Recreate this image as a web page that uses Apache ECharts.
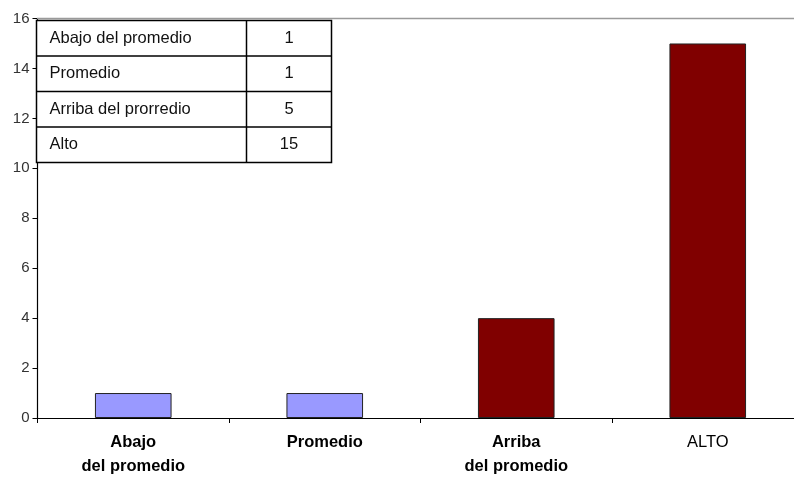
<!DOCTYPE html>
<html>
<head>
<meta charset="utf-8">
<script src="https://cdn.jsdelivr.net/npm/echarts@6/dist/echarts.min.js"></script>
<style>html,body{margin:0;padding:0;background:#fff;}#c{width:794px;height:478px;}</style>
</head>
<body>
<div id="c"></div>
<script>
var categories = ['Abajo\ndel promedio', 'Promedio', 'Arriba\ndel promedio', 'ALTO'];
var values = [1, 1, 4, 15];
var barColors = ['#9999FF', '#9999FF', '#800000', '#800000'];
var tableLabels = ['Abajo del promedio', 'Promedio', 'Arriba del prorredio', 'Alto'];
var tableValues = ['1', '1', '5', '15'];

var chart = echarts.init(document.getElementById('c'));

var graphics = [];
graphics.push({type:'line', shape:{x1:37, y1:18.5, x2:794, y2:18.5}, style:{stroke:'#9a9a9a', lineWidth:1.5}, z:5});
var tx = 36.5, ty = 20.5, tw = 295, cw = 210, rh = 35.5;
graphics.push({type:'rect', shape:{x:tx, y:ty, width:tw, height:rh*tableLabels.length}, style:{fill:'#fff', stroke:'#000', lineWidth:1.5}, z:10});
graphics.push({type:'line', shape:{x1:tx+cw, y1:ty, x2:tx+cw, y2:ty+rh*tableLabels.length}, style:{stroke:'#000', lineWidth:1.5}, z:11});
for (var i = 0; i < tableLabels.length; i++) {
  if (i > 0) graphics.push({type:'line', shape:{x1:tx, y1:ty+rh*i, x2:tx+tw, y2:ty+rh*i}, style:{stroke:'#000', lineWidth:1.5}, z:11});
  graphics.push({type:'text', x:tx+13, y:ty+rh*i+rh/2, style:{text:tableLabels[i], font:'16.5px "Liberation Sans", Arial, sans-serif', fill:'#111', verticalAlign:'middle', align:'left'}, z:12});
  graphics.push({type:'text', x:tx+cw+(tw-cw)/2, y:ty+rh*i+rh/2, style:{text:tableValues[i], font:'16.5px "Liberation Sans", Arial, sans-serif', fill:'#111', verticalAlign:'middle', align:'center'}, z:12});
}

chart.setOption({
  animation: false,
  backgroundColor: '#fff',
  grid: {left: 37.5, top: 18.5, width: 766, bottom: 60, containLabel: false, outerBoundsMode: 'none'},
  xAxis: {
    type: 'category',
    data: categories,
    axisLine: {lineStyle: {color: '#000', width: 1.2}},
    axisTick: {show: true, length: 5, lineStyle: {color: '#000'}},
    axisLabel: {
      margin: 12,
      interval: 0,
      formatter: function (v) {
        if (v === 'ALTO') return '{n|ALTO}';
        return v.split('\n').map(function (s) { return '{b|' + s + '}'; }).join('\n');
      },
      rich: {
        b: {fontFamily: '"Liberation Sans", Arial, sans-serif', fontWeight: 'bold', fontSize: 16.5, color: '#000', lineHeight: 24},
        n: {fontFamily: '"Liberation Sans", Arial, sans-serif', fontSize: 16.5, color: '#000', lineHeight: 24}
      }
    }
  },
  yAxis: {
    type: 'value',
    min: 0, max: 16, interval: 2,
    axisLine: {show: true, lineStyle: {color: '#000', width: 1.2}},
    axisTick: {show: true, length: 5, lineStyle: {color: '#000'}},
    splitLine: {show: false},
    axisLabel: {fontFamily: '"Liberation Sans", Arial, sans-serif', fontSize: 15, color: '#333', margin: 8}
  },
  series: [{
    type: 'bar',
    barWidth: '40%',
    data: values.map(function (v, i) {
      return {value: v, itemStyle: {color: barColors[i], borderColor: '#222', borderWidth: 1}};
    })
  }],
  graphic: graphics
});
</script>
</body>
</html>
